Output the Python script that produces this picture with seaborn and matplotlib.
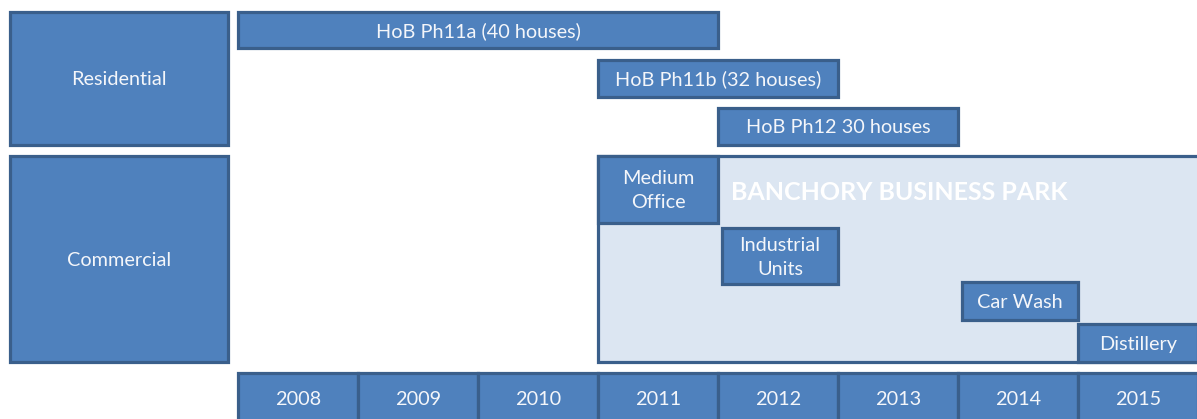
import matplotlib
matplotlib.use("Agg")
import matplotlib.pyplot as plt
import seaborn as sns

# --- data ---
categories = ["Residential", "Commercial"]
years = [2008, 2009, 2010, 2011, 2012, 2013, 2014, 2015]

res_tasks = ["HoB Ph11a (40 houses)", "HoB Ph11b (32 houses)", "HoB Ph12 30 houses"]
res_start = [2008, 2011, 2012]
res_end = [2012, 2013, 2014]

park_name = "BANCHORY BUSINESS PARK"
park_start = 2011
park_end = 2016

com_tasks = ["Medium\nOffice", "Industrial\nUnits", "Car Wash", "Distillery"]
com_start = [2011, 2012, 2014, 2015]
com_end = [2012, 2013, 2015, 2016]

# --- layout (pixel rows, top = 0) ---
cat_rows = [(12, 145), (156, 362)]
res_rows = [(12, 48), (60, 97), (108, 145)]
com_rows = [(156, 223), (228, 284), (282, 320), (324, 362)]
com_inset = [0, 0.035, 0.035, 0]   # small left gap seen in the original
year_row = (373, 430)
x_left = 2008 - 238 / 120
x_right = 2008 + 959 / 120

FILL = "#4f81bd"
EDGE = "#3a5f8b"
PARK = "#dce6f2"
TXT = "#f4f6fa"
LABEL_SIZE = 14.3

sns.set_theme(style="white")
plt.rcParams["font.family"] = ["Lato", "DejaVu Sans"]

fig = plt.figure(figsize=(11.97, 4.19), dpi=100)
ax = fig.add_axes([0, 0, 1, 1])
ax.set_xlim(x_left, x_right)
ax.set_ylim(419, 0)
ax.axis("off")


def box(x0, x1, row, label, fc=FILL, size=LABEL_SIZE, **kw):
    top, bottom = row
    ax.barh((top + bottom) / 2, x1 - x0, left=x0, height=bottom - top,
            color=fc, edgecolor=EDGE, linewidth=2.3)
    if label:
        ax.text((x0 + x1) / 2, (top + bottom) / 2 + 1, label, ha="center",
                va="center", color=TXT, fontsize=size, linespacing=1.5, **kw)


# category column
cat_x0 = x_left + 10 / 120
cat_x1 = x_left + 228 / 120
for cat, row in zip(categories, cat_rows):
    box(cat_x0, cat_x1, row, cat)

# residential bars
for name, s, e, row in zip(res_tasks, res_start, res_end, res_rows):
    box(s, e, row, name)

# business park background
box(park_start, park_end + 0.1, cat_rows[1], None, fc=PARK)
ax.text(park_start + 1.11, 192, park_name, ha="left", va="center",
        color="white", fontsize=18, fontweight="bold")

# commercial bars
for name, s, e, row, pad in zip(com_tasks, com_start, com_end, com_rows, com_inset):
    box(s + pad, e, row, name)

# year axis
for y in years:
    box(y, y + 1, year_row, None)
    ax.text(y + 0.5, 399, str(y), ha="center", va="center", color=TXT,
            fontsize=LABEL_SIZE)

fig.savefig("out.png", dpi=100)
